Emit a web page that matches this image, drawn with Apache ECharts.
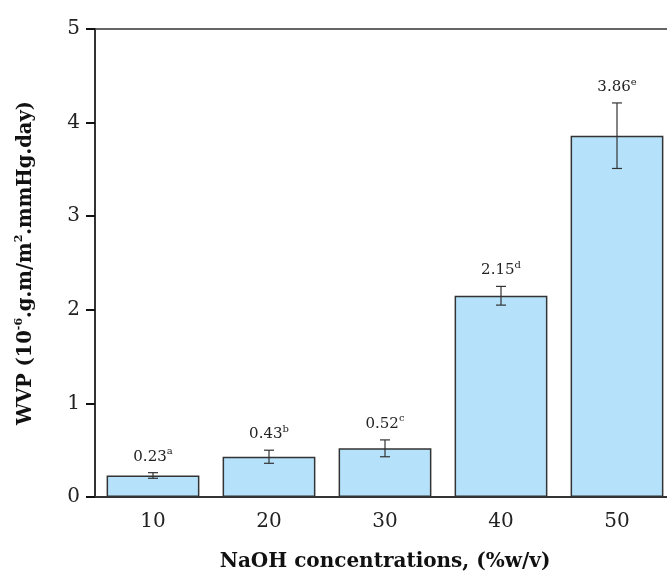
<!DOCTYPE html>
<html>
<head>
<meta charset="utf-8">
<script src="https://cdn.jsdelivr.net/npm/echarts@6/dist/echarts.min.js"></script>
<style>
  html, body { margin: 0; padding: 0; background: #fff; }
  #chart { width: 667px; height: 578px; }
</style>
</head>
<body>
<div id="chart"></div>
<script>
const concentrations = ['10', '20', '30', '40', '50']
const wvp = [0.23, 0.43, 0.52, 2.15, 3.86]
const wvpErr = [0.03, 0.07, 0.09, 0.1, 0.35]
const letters = ['a', 'b', 'c', 'd', 'e']

const serif = '"DejaVu Serif", "Liberation Serif", serif'
const ink = '#333'

const chart = echarts.init(document.getElementById('chart'))

const errData = wvp.map((v, i) => [i, v, wvpErr[i]])

const option = {
  animation: false,
  grid: {
    left: 95,
    top: 29,
    bottom: 81,
    right: -8,
    show: true,
    borderColor: ink,
    borderWidth: 1.5,
    outerBoundsMode: 'none',
  },
  xAxis: {
    type: 'category',
    data: concentrations,
    name: 'NaOH concentrations, (%w/v)',
    nameLocation: 'middle',
    nameGap: 55,
    nameTextStyle: { fontFamily: serif, fontWeight: 'bold', fontSize: 20, color: '#111' },
    axisLine: { lineStyle: { color: ink, width: 2 } },
    axisTick: { alignWithLabel: true, length: 9, lineStyle: { color: '#111', width: 2 } },
    axisLabel: { fontFamily: serif, fontSize: 20, color: '#222', margin: 15 },
  },
  yAxis: {
    type: 'value',
    min: 0,
    max: 5,
    interval: 1,
    name: '{b|WVP (10}{s|-6}{b|.g.m/m}{s|2}{b|.mmHg.day)}',
    nameLocation: 'middle',
    nameGap: 57,
    nameTextStyle: {
      rich: {
        b: { fontFamily: serif, fontWeight: 'bold', fontSize: 19.5, color: '#111', lineHeight: 24 },
        s: { fontFamily: serif, fontWeight: 'bold', fontSize: 11, color: '#111', verticalAlign: 'top', lineHeight: 24 },
      },
    },
    splitLine: { show: false },
    axisLine: { show: true, lineStyle: { color: ink, width: 2 } },
    axisTick: { show: true, length: 9, lineStyle: { color: '#111', width: 2 } },
    axisLabel: { fontFamily: serif, fontSize: 20, color: '#222', margin: 15 },
  },
  series: [
    {
      type: 'bar',
      data: wvp,
      barCategoryGap: '20%',
      itemStyle: { color: '#b5e1fa', borderColor: ink, borderWidth: 1.5 },
    },
    {
      type: 'custom',
      data: errData,
      z: 10,
      renderItem(params, api) {
        const i = api.value(0)
        const v = api.value(1)
        const e = api.value(2)
        const top = api.coord([i, v + e])
        const bot = api.coord([i, v - e])
        const cap = 5
        const style = { stroke: ink, lineWidth: 1.2 }
        return {
          type: 'group',
          children: [
            { type: 'line', shape: { x1: top[0], y1: top[1], x2: bot[0], y2: bot[1] }, style },
            { type: 'line', shape: { x1: top[0] - cap, y1: top[1], x2: top[0] + cap, y2: top[1] }, style },
            { type: 'line', shape: { x1: bot[0] - cap, y1: bot[1], x2: bot[0] + cap, y2: bot[1] }, style },
            {
              type: 'text',
              x: top[0],
              y: top[1] - 6,
              style: {
                text: '{v|' + v.toFixed(2) + '}{s|' + letters[params.dataIndex] + '}',
                align: 'center',
                verticalAlign: 'bottom',
                rich: {
                  v: { fontFamily: serif, fontSize: 15, fill: '#222', lineHeight: 20 },
                  s: { fontFamily: serif, fontSize: 10, fill: '#222', verticalAlign: 'top', lineHeight: 20 },
                },
              },
            },
          ],
        }
      },
    },
  ],
}

chart.setOption(option)
</script>
</body>
</html>
